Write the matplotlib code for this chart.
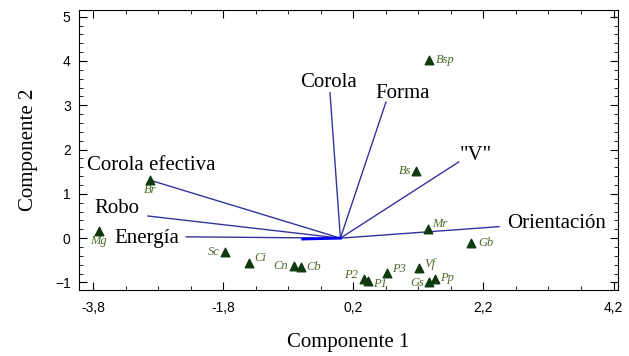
import matplotlib
matplotlib.use("Agg")
import matplotlib.pyplot as plt
from matplotlib.ticker import MultipleLocator, FixedLocator, FuncFormatter

# Puntos (especies)
names = ["Bsp", "Bs", "Br", "Mg", "Sc", "Ci", "Cn", "Cb", "P2", "P1", "P3",
         "Vf", "Gs", "Pp", "Mr", "Gb"]
comp1 = [1.36, 1.16, -2.93, -3.72, -1.77, -1.41, -0.72, -0.61, 0.36, 0.42, 0.71,
         1.21, 1.37, 1.45, 1.35, 2.01]
comp2 = [4.02, 1.52, 1.31, 0.16, -0.31, -0.55, -0.62, -0.65, -0.93, -0.97, -0.78,
         -0.68, -0.99, -0.93, 0.20, -0.11]
# offset del texto (puntos) y alineación
lab_dx = [5, -3, 0, 0, -4, 4, -4, 4, -4, 4, 4, 4, -4, 4, 3, 5]
lab_dy = [0, 0, -7, -7, 0, 3, 0, 0, 3, -2, 3, 3, -1, 1, 4, 0]

# Vectores de variables
var_names = ["Corola", "Forma", '"V"', "Orientación", "Corola efectiva", "Robo", "Energía", ""]
var_x = [-0.16, 0.70, 1.82, 2.44, -2.93, -2.96, -2.37, -0.58]
var_y = [3.28, 3.07, 1.72, 0.26, 1.31, 0.50, 0.03, -0.02]
var_lx = [-0.18, 0.95, 2.08, 2.56, -3.90, -3.79, -3.47, 0]
var_ly = [3.52, 3.27, 1.87, 0.33, 1.65, 0.68, 0.0, 0]
var_ha = ["center", "center", "center", "left", "left", "left", "left", "left"]

plt.rcParams["font.family"] = ["Liberation Serif", "DejaVu Serif"]

fig = plt.figure(figsize=(6.29, 3.56), dpi=100)
ax = fig.add_axes([0.1256, 0.1854, 0.857, 0.7865])

for i in range(len(var_x)):
    col = "#0000ff" if var_names[i] == "" else "#34349a"
    lw = 2.0 if var_names[i] == "" else 1.0
    ax.plot([0, var_x[i]], [0, var_y[i]], color=col, linewidth=lw, zorder=2)
    if var_names[i]:
        ax.text(var_lx[i], var_ly[i], var_names[i], ha=var_ha[i], va="center",
                fontsize=15, color="black")

ax.scatter(comp1, comp2, marker="^", s=38, color="#0f3a0f", zorder=3)
for i in range(len(names)):
    ha = "left" if lab_dx[i] > 0 else ("right" if lab_dx[i] < 0 else "center")
    ax.annotate(names[i], (comp1[i], comp2[i]), xytext=(lab_dx[i], lab_dy[i]),
                textcoords="offset points", ha=ha, va="center",
                fontsize=9, style="italic", color="#4a6b2a")

ax.set_xlim(-4.02, 4.27)
ax.set_ylim(-1.17, 5.15)
ax.xaxis.set_major_locator(FixedLocator([-3.8, -1.8, 0.2, 2.2, 4.2]))
ax.xaxis.set_minor_locator(FixedLocator([-3.8 + 0.5 * k for k in range(17)]))
ax.yaxis.set_major_locator(MultipleLocator(1))
ax.yaxis.set_minor_locator(MultipleLocator(0.2))
ax.xaxis.set_major_formatter(FuncFormatter(lambda v, p: f"{v:.1f}".replace(".", ",")))
ax.tick_params(which="both", direction="in", top=True, right=True,
               labelsize=10, labelfontfamily="Liberation Sans")
ax.tick_params(which="major", length=6)
ax.tick_params(which="minor", length=3)
ax.tick_params(axis="x", pad=8)
ax.tick_params(axis="y", pad=6)

ax.set_xlabel("Componente 1", fontsize=15, labelpad=13)
ax.set_ylabel("Componente 2", fontsize=15, labelpad=12)

fig.savefig("out.png", dpi=100, facecolor="white")
